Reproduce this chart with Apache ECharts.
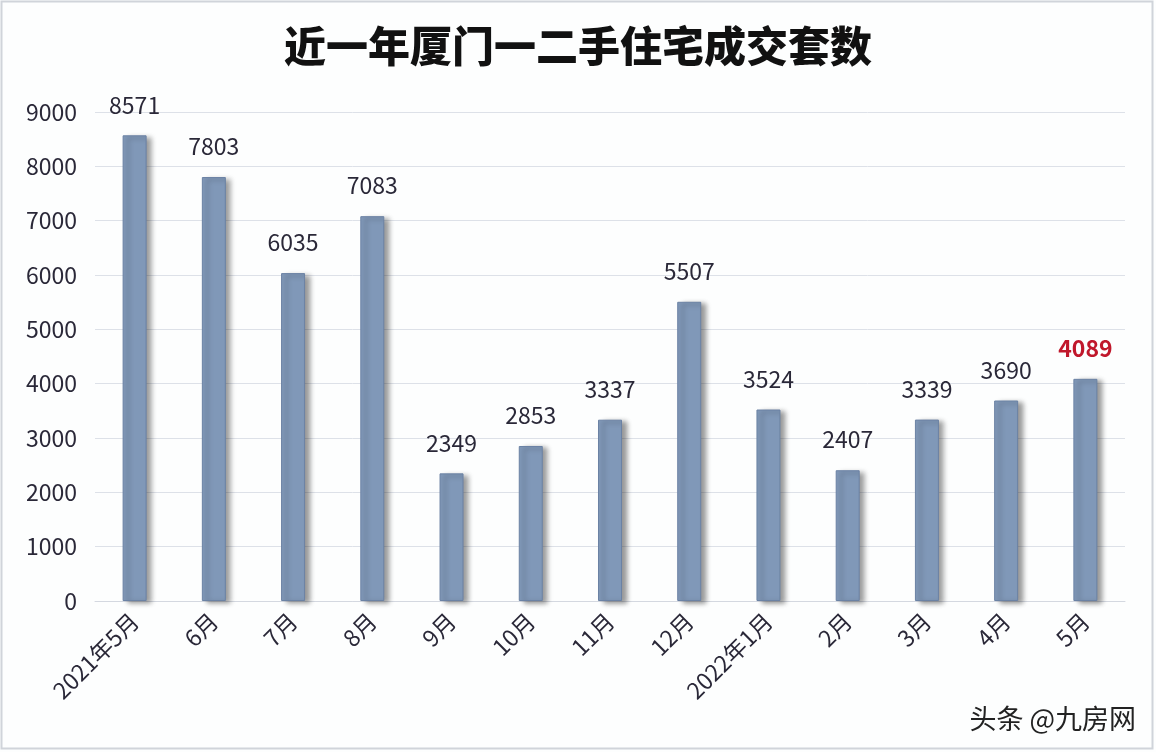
<!DOCTYPE html>
<html>
<head>
<meta charset="utf-8">
<script src="https://cdn.jsdelivr.net/npm/echarts@6/dist/echarts.min.js"></script>
<style>
html,body{margin:0;padding:0;background:#fff;}
#c{width:1156px;height:752px;}
</style>
</head>
<body>
<div id="c"></div>
<script>
var categories = ['2021年5月','6月','7月','8月','9月','10月','11月','12月','2022年1月','2月','3月','4月','5月'];
var values = [8571,7803,6035,7083,2349,2853,3337,5507,3524,2407,3339,3690,4089];
var yTicks = [0,1000,2000,3000,4000,5000,6000,7000,8000,9000];
var highlightIndex = 12;

var font = '"Noto Sans CJK SC","Noto Sans",sans-serif';
var chart = echarts.init(document.getElementById('c'));
var data = values.map(function(v,i){
  var d = {value: v};
  if (i === highlightIndex) {
    d.label = {color:'#c0172b', fontWeight:'bold'};
  }
  return d;
});
chart.setOption({
  backgroundColor:'#fdfefe',
  animation:false,
  title:{
    text:'近一年厦门一二手住宅成交套数',
    left:'center', top:20,
    textStyle:{fontSize:42, fontWeight:900, color:'#111', fontFamily:font}
  },
  graphic:[
    {type:'rect', shape:{x:1.5,y:1.5,width:1151,height:747}, style:{fill:'none', stroke:'#d0d4da', lineWidth:2}},
    {type:'text', right:20, bottom:20, style:{text:'头条 @九房网', font:'27px "Noto Sans CJK SC", sans-serif', fill:'#222'}}
  ],
  grid:{left:95, right:31, top:112, bottom:151},
  xAxis:{
    type:'category', data:categories,
    axisLine:{lineStyle:{color:'#d4d8e0'}},
    axisTick:{show:false},
    axisLabel:{rotate:45, fontSize:23, color:'#2a2838', margin:16, fontFamily:font, interval:0}
  },
  yAxis:{
    type:'value', min:yTicks[0], max:yTicks[yTicks.length-1], interval:1000,
    axisLine:{show:false}, axisTick:{show:false},
    axisLabel:{fontSize:23, color:'#2a2838', margin:18, fontFamily:font, formatter:function(v){return String(v);}},
    splitLine:{lineStyle:{color:'#dde1e8'}}
  },
  series:[{
    type:'bar', data:data, barWidth:24,
    itemStyle:{color:'#8098b8', borderColor:'#6b82a4', borderWidth:1,
      shadowColor:'rgba(0,0,0,0.4)', shadowBlur:5, shadowOffsetX:5, shadowOffsetY:2},
    label:{show:true, position:'top', distance:19, fontSize:23, color:'#2a2838', fontFamily:font}
  }]
});
</script>
</body>
</html>
